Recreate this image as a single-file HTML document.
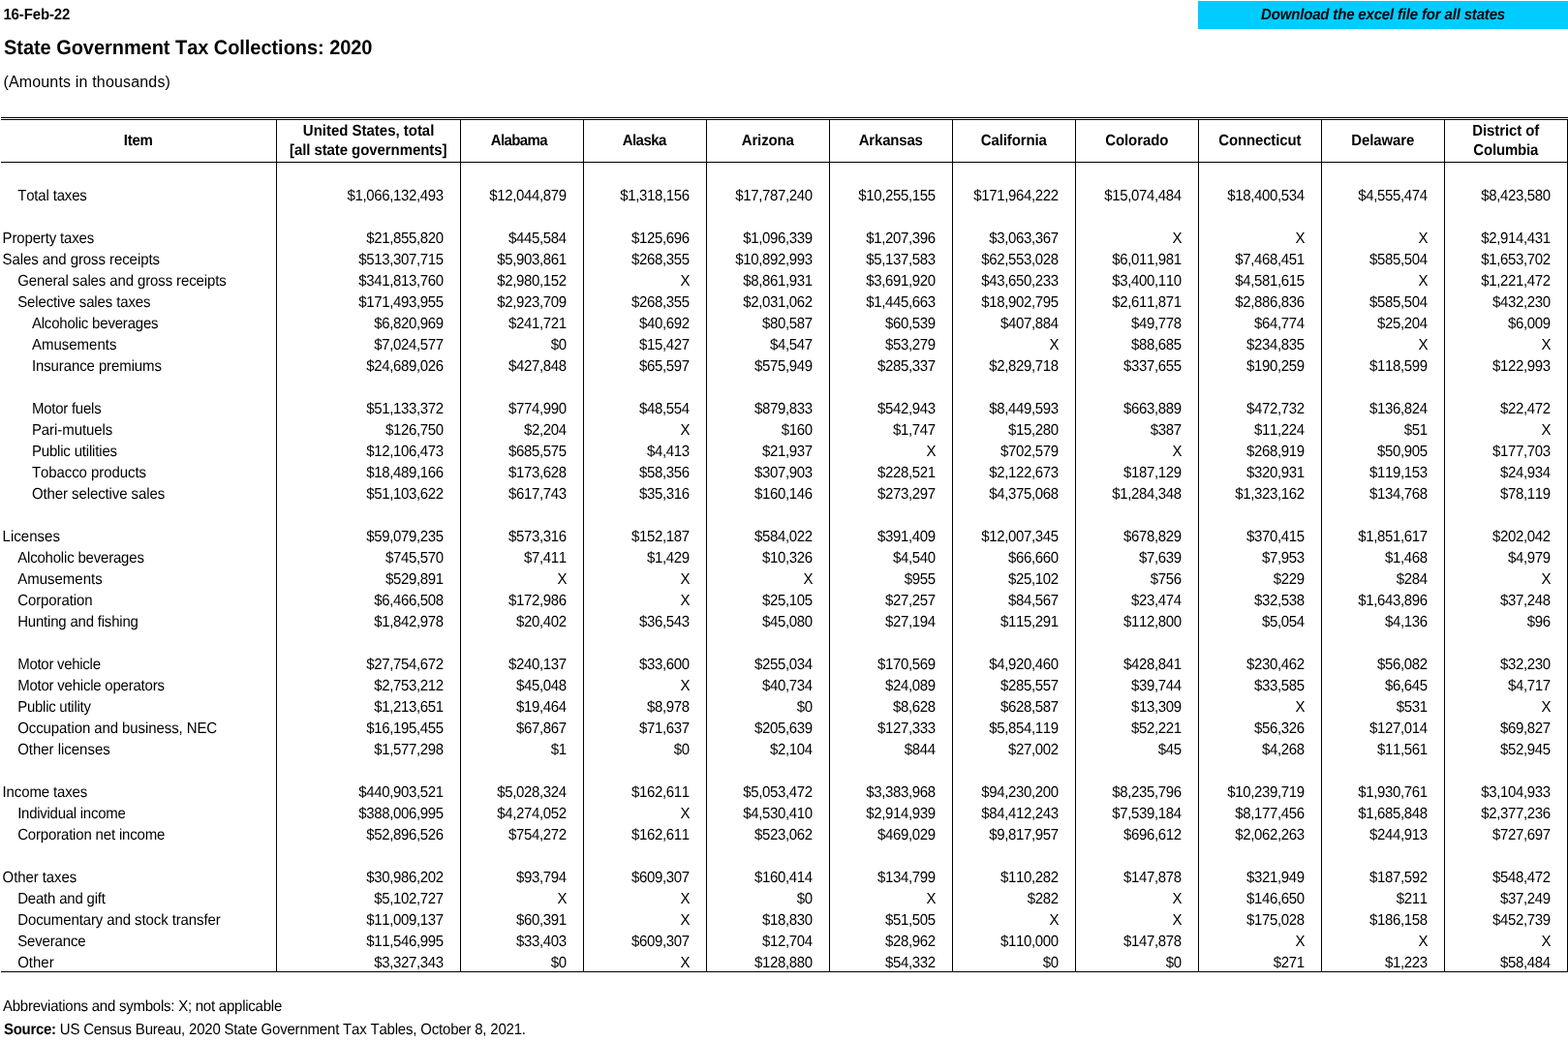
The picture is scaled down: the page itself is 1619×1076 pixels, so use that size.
<!DOCTYPE html>
<html lang="en">
<head>
<meta charset="utf-8">
<title>State Government Tax Collections: 2020</title>
<style>
html,body{margin:0;padding:0;background:#fff}
body{width:1619px;height:1076px;position:relative;overflow:hidden;font-family:"Liberation Sans",sans-serif;color:#000;font-size:15px;font-kerning:none;font-variant-ligatures:none;text-rendering:geometricPrecision}
.date{transform:translateY(1px) scaleY(1.066);transform-origin:0 14px;position:absolute;left:3.4px;top:5px;font-weight:bold;font-size:15px;line-height:20px;white-space:nowrap;letter-spacing:-0.135px}
h1{transform:translateY(1px) scaleY(1.05);transform-origin:0 19px;position:absolute;left:4px;top:36px;margin:0;font-weight:bold;font-size:20px;line-height:26px;white-space:nowrap;letter-spacing:-0.05px}
.sub{text-rendering:auto;position:absolute;left:3.4px;top:74px;font-size:16px;line-height:22px;white-space:nowrap;letter-spacing:0.17px}
.dl{position:absolute;left:1237px;top:1px;width:382px;height:29px;background:#00ccff;text-align:center;font-weight:bold;font-style:italic;font-size:15px;line-height:27px;white-space:nowrap;letter-spacing:-0.169px;color:#000;text-decoration:none;display:block}
table{position:absolute;left:1px;top:121px;width:1618px;border-collapse:separate;border-spacing:0;table-layout:fixed;border-top:3px double #000}
th,td{padding:0;margin:0;box-sizing:border-box;white-space:nowrap;overflow:visible}
th{height:44px;border-bottom:1px solid #000;font-weight:bold;font-size:15px;line-height:20px;text-align:center;vertical-align:top}
th span{display:block;position:relative;transform:translateY(1px) scaleY(1.066);transform-origin:0 14px}
td{height:22px;line-height:20px;padding-top:2px;font-size:15px;text-align:right;vertical-align:top;padding-right:18.24px;letter-spacing:-0.36px;transform:translateY(1px) scaleY(1.066);transform-origin:0 16px}
td.x{padding-right:17.4px;letter-spacing:0}
td.l{text-align:left;padding-right:0}
td.i0{padding-left:1.6px}
td.i1{padding-left:17.2px}
td.i2{padding-left:31.9px}
.bl{position:absolute;left:1px;top:1003px;width:1618px;height:1px;background:#000}
.v{position:absolute;top:123px;width:1px;height:881px;background:#000}
.note{transform:translateY(1px) scaleY(1.066);transform-origin:0 14px;position:absolute;left:3px;top:1029px;font-size:15px;line-height:20px;white-space:nowrap;letter-spacing:-0.239px}
.src{transform:translateY(1px) scaleY(1.066);transform-origin:0 14px;position:absolute;left:4px;top:1053px;font-size:15px;line-height:20px;white-space:nowrap;letter-spacing:-0.197px}
.dl span{display:inline-block;transform:translateY(1px) scaleY(1.066);transform-origin:0 18px}
.src b{font-weight:bold;letter-spacing:-0.29px}
</style>
</head>
<body>
<div class="date">16-Feb-22</div>
<a class="dl"><span>Download the excel file for all states</span></a>
<h1>State Government Tax Collections: 2020</h1>
<div class="sub">(Amounts in thousands)</div>
<table>
<colgroup><col style="width:285px"><col style="width:190px"><col style="width:127px"><col style="width:127px"><col style="width:127px"><col style="width:127px"><col style="width:127px"><col style="width:127px"><col style="width:127px"><col style="width:127px"><col style="width:127px"></colgroup>
<thead>
<tr><th style="padding-top:11px"><span style="letter-spacing:-0.211px;left:-0.805px">Item</span></th><th style="padding-top:1px"><span style="letter-spacing:-0.017px;left:-0.409px">United States, total</span><span style="letter-spacing:-0.079px;left:-0.839px">[all state governments]</span></th><th style="padding-top:11px"><span style="letter-spacing:-0.632px;left:-3.616px">Alabama</span></th><th style="padding-top:11px"><span style="letter-spacing:-0.512px;left:-1.206px">Alaska</span></th><th style="padding-top:11px"><span style="letter-spacing:-0.144px;left:-0.772px">Arizona</span></th><th style="padding-top:11px"><span style="letter-spacing:-0.193px;left:-0.796px">Arkansas</span></th><th style="padding-top:11px"><span style="letter-spacing:-0.118px;left:-0.759px">California</span></th><th style="padding-top:11px"><span style="letter-spacing:-0.104px;left:-0.752px">Colorado</span></th><th style="padding-top:11px"><span style="letter-spacing:-0.152px;left:-0.776px">Connecticut</span></th><th style="padding-top:11px"><span style="letter-spacing:-0.109px;left:-0.755px">Delaware</span></th><th style="padding-top:1px"><span style="letter-spacing:-0.091px;left:-0.746px">District of</span><span style="letter-spacing:-0.167px;left:-0.783px">Columbia</span></th></tr>
</thead>
<tbody>
<tr><td class="l"></td><td></td><td></td><td></td><td></td><td></td><td></td><td></td><td></td><td></td><td></td></tr>
<tr><td class="l i1" style="letter-spacing:-0.17px">Total taxes</td><td>$1,066,132,493</td><td>$12,044,879</td><td>$1,318,156</td><td>$17,787,240</td><td>$10,255,155</td><td>$171,964,222</td><td>$15,074,484</td><td>$18,400,534</td><td>$4,555,474</td><td>$8,423,580</td></tr>
<tr><td class="l"></td><td></td><td></td><td></td><td></td><td></td><td></td><td></td><td></td><td></td><td></td></tr>
<tr><td class="l i0" style="letter-spacing:-0.158px">Property taxes</td><td>$21,855,820</td><td>$445,584</td><td>$125,696</td><td>$1,096,339</td><td>$1,207,396</td><td>$3,063,367</td><td class="x">X</td><td class="x">X</td><td class="x">X</td><td>$2,914,431</td></tr>
<tr><td class="l i0" style="letter-spacing:-0.081px">Sales and gross receipts</td><td>$513,307,715</td><td>$5,903,861</td><td>$268,355</td><td>$10,892,993</td><td>$5,137,583</td><td>$62,553,028</td><td>$6,011,981</td><td>$7,468,451</td><td>$585,504</td><td>$1,653,702</td></tr>
<tr><td class="l i1" style="letter-spacing:-0.118px">General sales and gross receipts</td><td>$341,813,760</td><td>$2,980,152</td><td class="x">X</td><td>$8,861,931</td><td>$3,691,920</td><td>$43,650,233</td><td>$3,400,110</td><td>$4,581,615</td><td class="x">X</td><td>$1,221,472</td></tr>
<tr><td class="l i1" style="letter-spacing:-0.141px">Selective sales taxes</td><td>$171,493,955</td><td>$2,923,709</td><td>$268,355</td><td>$2,031,062</td><td>$1,445,663</td><td>$18,902,795</td><td>$2,611,871</td><td>$2,886,836</td><td>$585,504</td><td>$432,230</td></tr>
<tr><td class="l i2" style="letter-spacing:-0.197px">Alcoholic beverages</td><td>$6,820,969</td><td>$241,721</td><td>$40,692</td><td>$80,587</td><td>$60,539</td><td>$407,884</td><td>$49,778</td><td>$64,774</td><td>$25,204</td><td>$6,009</td></tr>
<tr><td class="l i2" style="letter-spacing:-0.003px">Amusements</td><td>$7,024,577</td><td>$0</td><td>$15,427</td><td>$4,547</td><td>$53,279</td><td class="x">X</td><td>$88,685</td><td>$234,835</td><td class="x">X</td><td class="x">X</td></tr>
<tr><td class="l i2" style="letter-spacing:-0.105px">Insurance premiums</td><td>$24,689,026</td><td>$427,848</td><td>$65,597</td><td>$575,949</td><td>$285,337</td><td>$2,829,718</td><td>$337,655</td><td>$190,259</td><td>$118,599</td><td>$122,993</td></tr>
<tr><td class="l"></td><td></td><td></td><td></td><td></td><td></td><td></td><td></td><td></td><td></td><td></td></tr>
<tr><td class="l i2" style="letter-spacing:-0.245px">Motor fuels</td><td>$51,133,372</td><td>$774,990</td><td>$48,554</td><td>$879,833</td><td>$542,943</td><td>$8,449,593</td><td>$663,889</td><td>$472,732</td><td>$136,824</td><td>$22,472</td></tr>
<tr><td class="l i2" style="letter-spacing:-0.066px">Pari-mutuels</td><td>$126,750</td><td>$2,204</td><td class="x">X</td><td>$160</td><td>$1,747</td><td>$15,280</td><td>$387</td><td>$11,224</td><td>$51</td><td class="x">X</td></tr>
<tr><td class="l i2" style="letter-spacing:-0.179px">Public utilities</td><td>$12,106,473</td><td>$685,575</td><td>$4,413</td><td>$21,937</td><td class="x">X</td><td>$702,579</td><td class="x">X</td><td>$268,919</td><td>$50,905</td><td>$177,703</td></tr>
<tr><td class="l i2" style="letter-spacing:-0.077px">Tobacco products</td><td>$18,489,166</td><td>$173,628</td><td>$58,356</td><td>$307,903</td><td>$228,521</td><td>$2,122,673</td><td>$187,129</td><td>$320,931</td><td>$119,153</td><td>$24,934</td></tr>
<tr><td class="l i2" style="letter-spacing:-0.096px">Other selective sales</td><td>$51,103,622</td><td>$617,743</td><td>$35,316</td><td>$160,146</td><td>$273,297</td><td>$4,375,068</td><td>$1,284,348</td><td>$1,323,162</td><td>$134,768</td><td>$78,119</td></tr>
<tr><td class="l"></td><td></td><td></td><td></td><td></td><td></td><td></td><td></td><td></td><td></td><td></td></tr>
<tr><td class="l i0" style="letter-spacing:0.012px">Licenses</td><td>$59,079,235</td><td>$573,316</td><td>$152,187</td><td>$584,022</td><td>$391,409</td><td>$12,007,345</td><td>$678,829</td><td>$370,415</td><td>$1,851,617</td><td>$202,042</td></tr>
<tr><td class="l i1" style="letter-spacing:-0.197px">Alcoholic beverages</td><td>$745,570</td><td>$7,411</td><td>$1,429</td><td>$10,326</td><td>$4,540</td><td>$66,660</td><td>$7,639</td><td>$7,953</td><td>$1,468</td><td>$4,979</td></tr>
<tr><td class="l i1" style="letter-spacing:-0.003px">Amusements</td><td>$529,891</td><td class="x">X</td><td class="x">X</td><td class="x">X</td><td>$955</td><td>$25,102</td><td>$756</td><td>$229</td><td>$284</td><td class="x">X</td></tr>
<tr><td class="l i1" style="letter-spacing:-0.107px">Corporation</td><td>$6,466,508</td><td>$172,986</td><td class="x">X</td><td>$25,105</td><td>$27,257</td><td>$84,567</td><td>$23,474</td><td>$32,538</td><td>$1,643,896</td><td>$37,248</td></tr>
<tr><td class="l i1" style="letter-spacing:-0.206px">Hunting and fishing</td><td>$1,842,978</td><td>$20,402</td><td>$36,543</td><td>$45,080</td><td>$27,194</td><td>$115,291</td><td>$112,800</td><td>$5,054</td><td>$4,136</td><td>$96</td></tr>
<tr><td class="l"></td><td></td><td></td><td></td><td></td><td></td><td></td><td></td><td></td><td></td><td></td></tr>
<tr><td class="l i1" style="letter-spacing:-0.285px">Motor vehicle</td><td>$27,754,672</td><td>$240,137</td><td>$33,600</td><td>$255,034</td><td>$170,569</td><td>$4,920,460</td><td>$428,841</td><td>$230,462</td><td>$56,082</td><td>$32,230</td></tr>
<tr><td class="l i1" style="letter-spacing:-0.228px">Motor vehicle operators</td><td>$2,753,212</td><td>$45,048</td><td class="x">X</td><td>$40,734</td><td>$24,089</td><td>$285,557</td><td>$39,744</td><td>$33,585</td><td>$6,645</td><td>$4,717</td></tr>
<tr><td class="l i1" style="letter-spacing:-0.264px">Public utility</td><td>$1,213,651</td><td>$19,464</td><td>$8,978</td><td>$0</td><td>$8,628</td><td>$628,587</td><td>$13,309</td><td class="x">X</td><td>$531</td><td class="x">X</td></tr>
<tr><td class="l i1" style="letter-spacing:-0.091px">Occupation and business, NEC</td><td>$16,195,455</td><td>$67,867</td><td>$71,637</td><td>$205,639</td><td>$127,333</td><td>$5,854,119</td><td>$52,221</td><td>$56,326</td><td>$127,014</td><td>$69,827</td></tr>
<tr><td class="l i1" style="letter-spacing:-0.027px">Other licenses</td><td>$1,577,298</td><td>$1</td><td>$0</td><td>$2,104</td><td>$844</td><td>$27,002</td><td>$45</td><td>$4,268</td><td>$11,561</td><td>$52,945</td></tr>
<tr><td class="l"></td><td></td><td></td><td></td><td></td><td></td><td></td><td></td><td></td><td></td><td></td></tr>
<tr><td class="l i0" style="letter-spacing:-0.142px">Income taxes</td><td>$440,903,521</td><td>$5,028,324</td><td>$162,611</td><td>$5,053,472</td><td>$3,383,968</td><td>$94,230,200</td><td>$8,235,796</td><td>$10,239,719</td><td>$1,930,761</td><td>$3,104,933</td></tr>
<tr><td class="l i1" style="letter-spacing:-0.27px">Individual income</td><td>$388,006,995</td><td>$4,274,052</td><td class="x">X</td><td>$4,530,410</td><td>$2,914,939</td><td>$84,412,243</td><td>$7,539,184</td><td>$8,177,456</td><td>$1,685,848</td><td>$2,377,236</td></tr>
<tr><td class="l i1" style="letter-spacing:-0.178px">Corporation net income</td><td>$52,896,526</td><td>$754,272</td><td>$162,611</td><td>$523,062</td><td>$469,029</td><td>$9,817,957</td><td>$696,612</td><td>$2,062,263</td><td>$244,913</td><td>$727,697</td></tr>
<tr><td class="l"></td><td></td><td></td><td></td><td></td><td></td><td></td><td></td><td></td><td></td><td></td></tr>
<tr><td class="l i0" style="letter-spacing:-0.094px">Other taxes</td><td>$30,986,202</td><td>$93,794</td><td>$609,307</td><td>$160,414</td><td>$134,799</td><td>$110,282</td><td>$147,878</td><td>$321,949</td><td>$187,592</td><td>$548,472</td></tr>
<tr><td class="l i1" style="letter-spacing:-0.207px">Death and gift</td><td>$5,102,727</td><td class="x">X</td><td class="x">X</td><td>$0</td><td class="x">X</td><td>$282</td><td class="x">X</td><td>$146,650</td><td>$211</td><td>$37,249</td></tr>
<tr><td class="l i1" style="letter-spacing:-0.103px">Documentary and stock transfer</td><td>$11,009,137</td><td>$60,391</td><td class="x">X</td><td>$18,830</td><td>$51,505</td><td class="x">X</td><td class="x">X</td><td>$175,028</td><td>$186,158</td><td>$452,739</td></tr>
<tr><td class="l i1" style="letter-spacing:-0.157px">Severance</td><td>$11,546,995</td><td>$33,403</td><td>$609,307</td><td>$12,704</td><td>$28,962</td><td>$110,000</td><td>$147,878</td><td class="x">X</td><td class="x">X</td><td class="x">X</td></tr>
<tr><td class="l i1" style="letter-spacing:-0.003px">Other</td><td>$3,327,343</td><td>$0</td><td class="x">X</td><td>$128,880</td><td>$54,332</td><td>$0</td><td>$0</td><td>$271</td><td>$1,223</td><td>$58,484</td></tr>
</tbody>
</table>
<div class="bl"></div>
<div class="v" style="left:285px"></div>
<div class="v" style="left:475px"></div>
<div class="v" style="left:602px"></div>
<div class="v" style="left:729px"></div>
<div class="v" style="left:856px"></div>
<div class="v" style="left:983px"></div>
<div class="v" style="left:1110px"></div>
<div class="v" style="left:1237px"></div>
<div class="v" style="left:1364px"></div>
<div class="v" style="left:1491px"></div>
<div class="v" style="left:1618px"></div>
<div class="note">Abbreviations and symbols: X; not applicable</div>
<div class="src"><b>Source:</b> US Census Bureau, 2020 State Government Tax Tables, October 8, 2021.</div>
</body>
</html>
